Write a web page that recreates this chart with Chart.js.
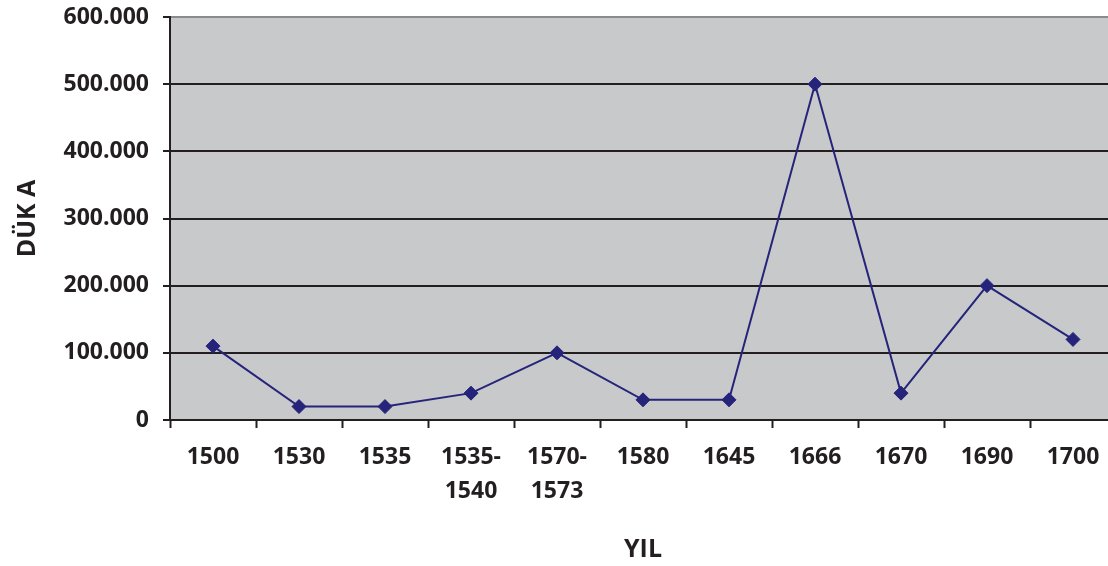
<!DOCTYPE html>
<html>
<head>
<meta charset="utf-8">
<script src="https://cdn.jsdelivr.net/npm/chart.js@4"></script>
<style>
  html, body { margin: 0; padding: 0; background: #fff; overflow: hidden; }
  #wrap { width: 1124px; height: 566px; }
</style>
</head>
<body>
<div id="wrap"><canvas id="dukaChart" width="1124" height="566"></canvas></div>
<script>
// yillar ve duka degerleri
const years = ['1500', '1530', '1535', ['1535-', '1540'], ['1570-', '1573'], '1580', '1645', '1666', '1670', '1690', '1700']
const duka = [110000, 20000, 20000, 40000, 100000, 30000, 30000, 500000, 40000, 200000, 120000]
const yTicks = [0, 100000, 200000, 300000, 400000, 500000, 600000]

const ink = '#231f20'
const fontFamily = '"Open Sans", "Liberation Sans", sans-serif'

const plotBg = {
    id: 'plotBg',
    beforeDraw(chart) {
        const {ctx, chartArea: a} = chart
        ctx.save()
        ctx.fillStyle = '#c8c9cb'
        ctx.fillRect(a.left, a.top, a.right - a.left, a.bottom - a.top)
        ctx.restore()
    }
}

const fmt = v => String(v).replace(/\B(?=(\d{3})+(?!\d))/g, '.')

new Chart(document.getElementById('dukaChart'), {
    type: 'line',
    data: {
        labels: years,
        datasets: [{
            label: 'Düka',
            data: duka,
            borderColor: '#25247a',
            backgroundColor: '#25247a',
            borderWidth: 2,
            pointStyle: 'rectRot',
            pointRadius: 7,
            pointBorderWidth: 1,
            tension: 0,
            fill: false
        }]
    },
    options: {
        responsive: false,
        animation: false,
        layout: { padding: { top: 17, right: 0, left: 0, bottom: 0 } },
        plugins: {
            legend: { display: false },
            tooltip: { enabled: false }
        },
        scales: {
            x: {
                offset: true,
                afterFit: s => { s.height = 146 },
                grid: {
                    offset: true,
                    drawOnChartArea: false,
                    drawTicks: true,
                    tickLength: 8,
                    tickWidth: 2,
                    tickColor: ink
                },
                border: { color: ink, width: 2 },
                ticks: {
                    color: ink,
                    padding: 12,
                    maxRotation: 0,
                    autoSkip: false,
                    font: { family: fontFamily, size: 23, weight: 'bold', lineHeight: 1.5 }
                },
                title: {
                    display: true,
                    text: 'YIL',
                    color: ink,
                    padding: { top: 0, bottom: 1 },
                    font: { family: fontFamily, size: 25, weight: 'bold' }
                }
            },
            y: {
                min: 0,
                max: 600000,
                afterFit: s => { s.width = 170; s.paddingTop = 0; s.paddingBottom = 0 },
                afterBuildTicks: s => { s.ticks = yTicks.map(v => ({ value: v })) },
                grid: {
                    color: ctx => ctx.tick && ctx.tick.value === 600000 ? '#8a8a8a' : ink,
                    lineWidth: 2,
                    tickLength: 7,
                    tickColor: ink,
                    tickWidth: 2
                },
                border: { color: ink, width: 2 },
                ticks: {
                    color: ink,
                    padding: 14,
                    callback: v => fmt(v),
                    font: { family: fontFamily, size: 23, weight: 'bold' }
                },
                title: {
                    display: true,
                    text: 'DÜK A',
                    color: ink,
                    padding: { top: 13, bottom: 0 },
                    font: { family: fontFamily, size: 25, weight: 'bold' }
                }
            }
        }
    },
    plugins: [plotBg]
})
</script>
</body>
</html>
